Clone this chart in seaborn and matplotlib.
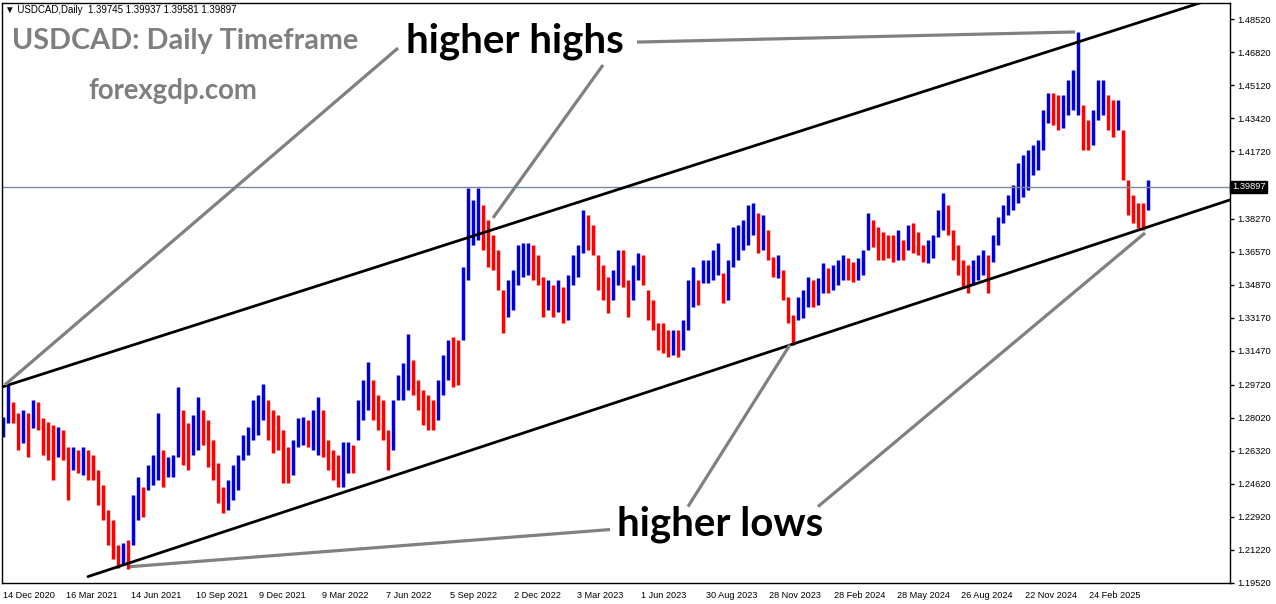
import numpy as np
import pandas as pd
import seaborn as sns
import matplotlib.pyplot as plt
from matplotlib.transforms import blended_transform_factory

# weekly high / low (one bar = 5 trading days)
highs = [
    1.2808, 1.2972, 1.2885, 1.2828, 1.2844, 1.2828, 1.2895, 1.2885, 1.2802, 1.2782,
    1.2767, 1.2756, 1.2741, 1.2653, 1.2653, 1.2638, 1.2653, 1.2638, 1.2612, 1.2535,
    1.2458, 1.2329, 1.2278, 1.2150, 1.2160, 1.2175, 1.2407, 1.2499, 1.2448, 1.2561,
    1.2612, 1.2828, 1.2638, 1.2602, 1.2612, 1.2962, 1.2844, 1.2777, 1.2818, 1.2910,
    1.2844, 1.2792, 1.2689, 1.2571, 1.2448, 1.2484, 1.2561, 1.2612, 1.2715, 1.2756,
    1.2895, 1.2921, 1.2977, 1.2895, 1.2844, 1.2818, 1.2741, 1.2653, 1.2689, 1.2802,
    1.2808, 1.2792, 1.2844, 1.2910, 1.2844, 1.2689, 1.2638, 1.2612, 1.2679, 1.2679,
    1.2664, 1.2895, 1.2998, 1.3090, 1.2998, 1.2921, 1.2895, 1.2741, 1.2895, 1.3024,
    1.3085, 1.3234, 1.3100, 1.2998, 1.2946, 1.2921, 1.2895, 1.2998, 1.3126, 1.3203,
    1.3219, 1.3203, 1.3579, 1.3985, 1.3923, 1.3985, 1.3897, 1.3820, 1.3743, 1.3666,
    1.3460, 1.3512, 1.3563, 1.3692, 1.3702, 1.3702, 1.3692, 1.3640, 1.3527, 1.3512,
    1.3486, 1.3512, 1.3476, 1.3537, 1.3640, 1.3692, 1.3872, 1.3846, 1.3794, 1.3640,
    1.3589, 1.3527, 1.3563, 1.3666, 1.3666, 1.3512, 1.3589, 1.3651, 1.3640, 1.3460,
    1.3409, 1.3291, 1.3291, 1.3255, 1.3255, 1.3255, 1.3306, 1.3512, 1.3579, 1.3512,
    1.3614, 1.3614, 1.3666, 1.3702, 1.3548, 1.3614, 1.3784, 1.3794, 1.3820, 1.3897,
    1.3907, 1.3856, 1.3846, 1.3769, 1.3630, 1.3640, 1.3563, 1.3424, 1.3332, 1.3424,
    1.3460, 1.3527, 1.3512, 1.3522, 1.3599, 1.3573, 1.3589, 1.3614, 1.3640, 1.3625,
    1.3604, 1.3625, 1.3666, 1.3856, 1.3820, 1.3784, 1.3759, 1.3743, 1.3743, 1.3769,
    1.3717, 1.3794, 1.3805, 1.3759, 1.3692, 1.3717, 1.3743, 1.3872, 1.3959, 1.3897,
    1.3769, 1.3692, 1.3614, 1.3589, 1.3614, 1.3640, 1.3666, 1.3640, 1.3743, 1.3836,
    1.3897, 1.3949, 1.4000, 1.4113, 1.4154, 1.4180, 1.4206, 1.4231, 1.4386, 1.4473,
    1.4473, 1.4463, 1.4463, 1.4540, 1.4591, 1.4787, 1.4411, 1.4334, 1.4386, 1.4540,
    1.4540, 1.4463, 1.4437, 1.4437, 1.4283, 1.4026, 1.3949, 1.3907, 1.3907, 1.4026,
]
lows = [
    1.2705, 1.2777, 1.2777, 1.2638, 1.2674, 1.2602, 1.2751, 1.2741, 1.2612, 1.2587,
    1.2484, 1.2602, 1.2587, 1.2381, 1.2535, 1.2520, 1.2509, 1.2484, 1.2484, 1.2355,
    1.2278, 1.2150, 1.2073, 1.2031, 1.2047, 1.2026, 1.2150, 1.2278, 1.2294, 1.2432,
    1.2458, 1.2484, 1.2448, 1.2499, 1.2499, 1.2602, 1.2561, 1.2535, 1.2612, 1.2638,
    1.2664, 1.2551, 1.2484, 1.2365, 1.2314, 1.2329, 1.2381, 1.2432, 1.2587, 1.2612,
    1.2689, 1.2715, 1.2792, 1.2689, 1.2623, 1.2638, 1.2468, 1.2468, 1.2509, 1.2653,
    1.2664, 1.2653, 1.2638, 1.2612, 1.2602, 1.2535, 1.2484, 1.2448, 1.2448, 1.2520,
    1.2520, 1.2689, 1.2792, 1.2844, 1.2792, 1.2741, 1.2689, 1.2535, 1.2638, 1.2895,
    1.2895, 1.2946, 1.2921, 1.2844, 1.2767, 1.2741, 1.2741, 1.2792, 1.2921, 1.2998,
    1.2962, 1.2972, 1.3203, 1.3512, 1.3692, 1.3717, 1.3666, 1.3579, 1.3563, 1.3460,
    1.3239, 1.3322, 1.3358, 1.3486, 1.3527, 1.3537, 1.3512, 1.3486, 1.3322, 1.3358,
    1.3322, 1.3347, 1.3291, 1.3306, 1.3486, 1.3527, 1.3651, 1.3666, 1.3640, 1.3460,
    1.3409, 1.3342, 1.3409, 1.3486, 1.3476, 1.3322, 1.3409, 1.3512, 1.3486, 1.3306,
    1.3255, 1.3152, 1.3137, 1.3116, 1.3126, 1.3116, 1.3152, 1.3255, 1.3373, 1.3383,
    1.3496, 1.3496, 1.3512, 1.3537, 1.3394, 1.3409, 1.3579, 1.3614, 1.3666, 1.3692,
    1.3743, 1.3651, 1.3666, 1.3614, 1.3527, 1.3522, 1.3409, 1.3291, 1.3178, 1.3306,
    1.3316, 1.3373, 1.3373, 1.3383, 1.3445, 1.3445, 1.3460, 1.3486, 1.3512, 1.3512,
    1.3501, 1.3512, 1.3537, 1.3666, 1.3681, 1.3614, 1.3614, 1.3625, 1.3604, 1.3614,
    1.3614, 1.3666, 1.3651, 1.3640, 1.3604, 1.3599, 1.3625, 1.3733, 1.3769, 1.3743,
    1.3614, 1.3537, 1.3476, 1.3445, 1.3486, 1.3512, 1.3537, 1.3445, 1.3604, 1.3692,
    1.3805, 1.3846, 1.3872, 1.3907, 1.3938, 1.3974, 1.4051, 1.4077, 1.4180, 1.4319,
    1.4308, 1.4283, 1.4293, 1.4360, 1.4386, 1.4360, 1.4180, 1.4180, 1.4206, 1.4334,
    1.4360, 1.4283, 1.4247, 1.4283, 1.4026, 1.3846, 1.3805, 1.3779, 1.3769, 1.3872,
]
last_close = 1.39897
header = "USDCAD,Daily  1.39745 1.39937 1.39581 1.39897"

ytick_vals = [1.19520, 1.21220, 1.22920, 1.24620, 1.26320, 1.28020, 1.29720,
              1.31470, 1.33170, 1.34870, 1.36570, 1.38270, 1.41720, 1.43420,
              1.45120, 1.46820, 1.48520]
xtick_days = [0, 63, 128, 193, 256, 319, 383, 447, 511, 574, 638, 703, 766,
              831, 894, 958, 1022, 1086]
xtick_labels = ["14 Dec 2020", "16 Mar 2021", "14 Jun 2021", "10 Sep 2021",
                "9 Dec 2021", "9 Mar 2022", "7 Jun 2022", "5 Sep 2022",
                "2 Dec 2022", "3 Mar 2023", "1 Jun 2023", "30 Aug 2023",
                "28 Nov 2023", "28 Feb 2024", "28 May 2024", "26 Aug 2024",
                "22 Nov 2024", "24 Feb 2025"]

# channel lines (day, price)
upper_line = ([0, 1227], [1.2962, 1.4986])
lower_line = ([85, 1227], [1.1985, 1.3923])

# callouts: label position and (from, to) pointer lines
hh_pos = (512, 1.4740)
hl_pos = (717, 1.2252)
hh_arrows = [((395, 1.4704), (2, 1.2972)),
             ((600, 1.4617), (490, 1.3830)),
             ((634, 1.4735), (1072, 1.4787))]
hl_arrows = [((607, 1.2227), (127, 1.2036)),
             ((685, 1.2345), (787, 1.3178)),
             ((815, 1.2345), (1142, 1.3753))]

df = pd.DataFrame({"high": highs, "low": lows})
df["day"] = np.arange(len(df)) * 5
mid = (df["high"] + df["low"]) / 2
df["up"] = mid.diff().fillna(0) >= 0

sns.set_theme(style="white")
plt.rcParams["font.family"] = ["Liberation Sans", "DejaVu Sans"]

W, H = 1276, 604
fig = plt.figure(figsize=(W / 100, H / 100), dpi=100, facecolor="white")
ax = fig.add_axes([2 / W, (H - 583) / H, 1228 / W, 580 / H])

ax.vlines(df["day"], df["low"], df["high"],
          colors=np.where(df["up"], "#0000d8", "#ff0000"), linewidth=2.5)

ax.axhline(last_close, color="#7a8a9a", lw=1)
ax.plot(*upper_line, color="black", lw=2)
ax.plot(*lower_line, color="black", lw=2)

for (x0, y0), (x1, y1) in hh_arrows + hl_arrows:
    ax.plot([x0, x1], [y0, y1], color="#808080", lw=2.3, solid_capstyle="butt")

ax.set_xlim(-1, 1227)
ax.set_ylim(1.1952, 1.4936)

ax.yaxis.tick_right()
ax.set_yticks(ytick_vals)
ax.set_yticklabels([f"{v:.5f}" for v in ytick_vals], fontsize=6.7)
ax.set_xticks(xtick_days)
ax.set_xticklabels(xtick_labels, fontsize=6.6, ha="left")
ax.tick_params(axis="both", direction="out", length=3, width=1, color="black",
               pad=2, labelcolor="black")
ax.tick_params(axis="x", pad=3)

for s in ax.spines.values():
    s.set_color("black")
    s.set_linewidth(1)
    s.set_visible(True)

trans = blended_transform_factory(ax.transAxes, ax.transData)
ax.text(1.0015, last_close, "1.39897", transform=trans, fontsize=6.7,
        color="white", va="center", ha="left",
        bbox=dict(boxstyle="square,pad=0.2", fc="black", ec="black"))

ax.text(hh_pos[0], hh_pos[1], "higher highs", fontsize=29, fontweight="bold",
        family="Lato", color="black", ha="center", va="center")
ax.text(hl_pos[0], hl_pos[1], "higher lows", fontsize=29, fontweight="bold",
        family="Lato", color="black", ha="center", va="center")

fig.text(5 / W, 1 - 10 / H, "\u25bc " + header, fontsize=7, color="black",
         va="center", ha="left")
fig.text(12 / W, 1 - 41 / H, "USDCAD: Daily Timeframe", fontsize=20.7,
         fontweight="bold", family="Lato", color="#7f7f7f", va="center")
fig.text(88 / W, 1 - 91 / H, "forexgdp.com", fontsize=19.8, fontweight="bold",
         family="Lato", color="#7f7f7f", va="center")

fig.savefig("out.png", dpi=100, facecolor="white")
